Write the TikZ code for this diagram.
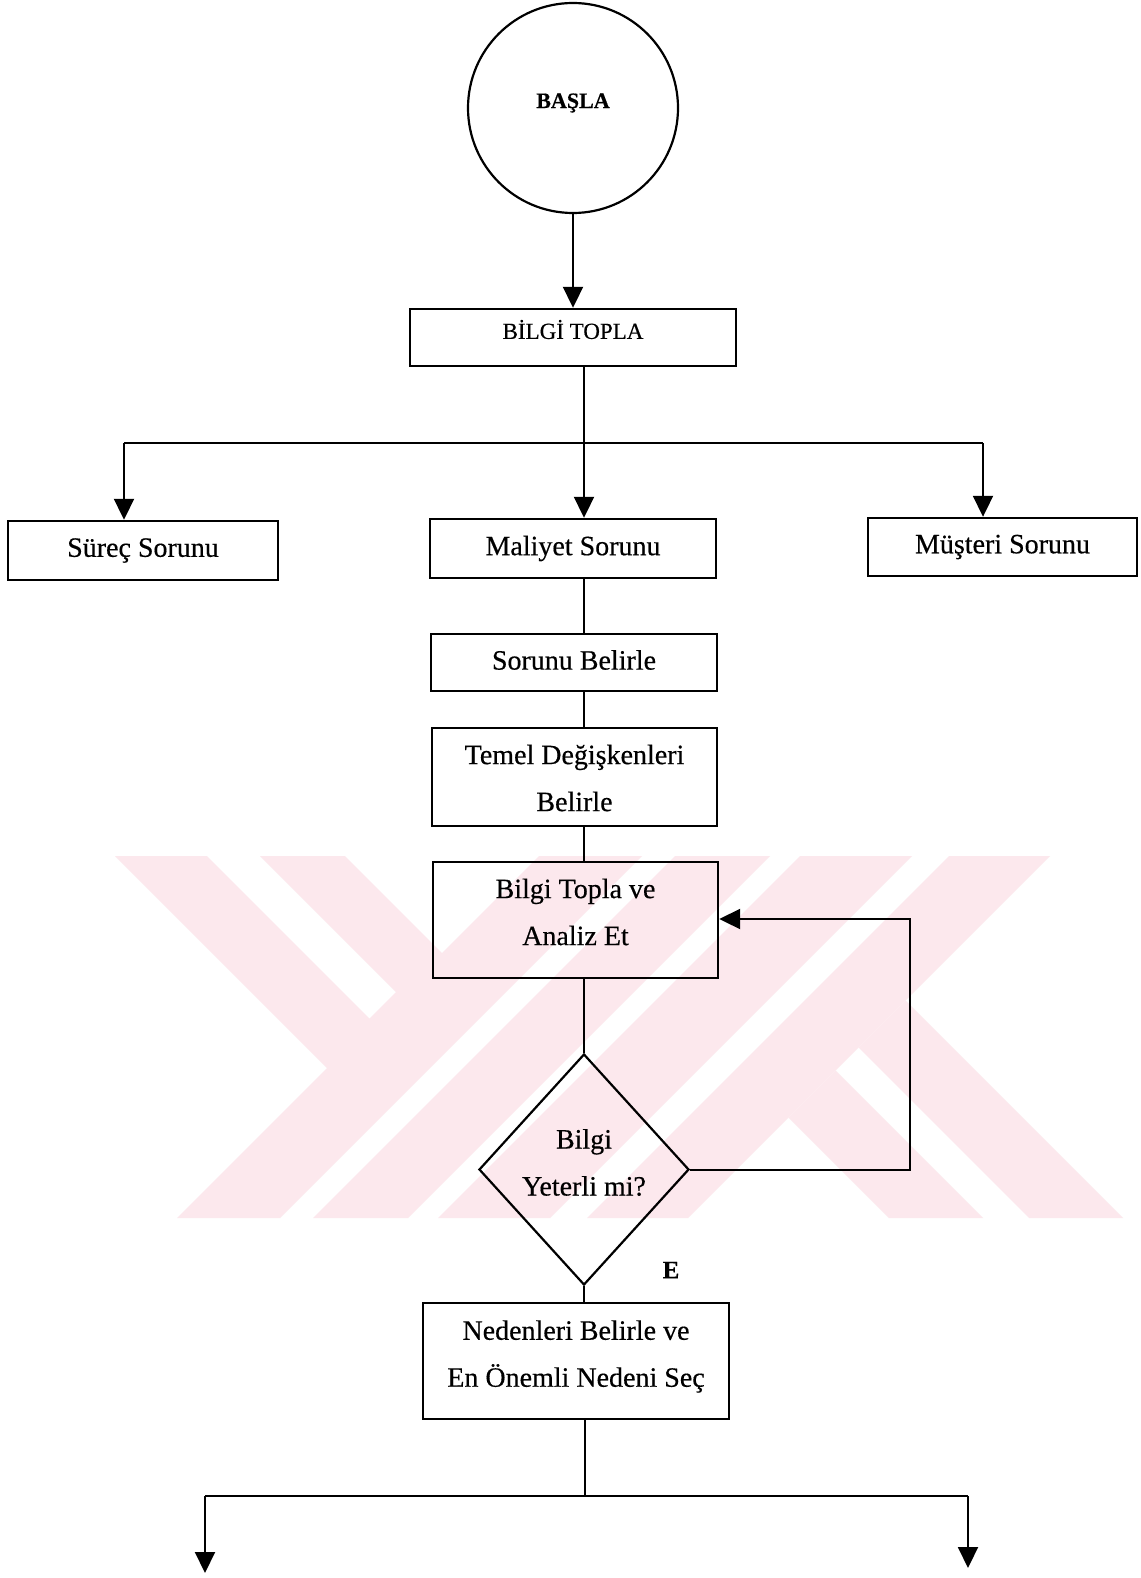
\documentclass[tikz,border=0pt]{standalone}
\usepackage{fontspec}
\setmainfont{Liberation Serif}[FakeBold=0.4]
\usetikzlibrary{arrows.meta,shapes.geometric}
\definecolor{wmpink}{RGB}{252,232,237}
\begin{document}
\begin{tikzpicture}[x=1pt,y=-1pt,
  line width=2pt,
  box/.style={draw=black, line width=2.4pt, rectangle, inner sep=0pt},
  decision/.style={draw=black, line width=2.2pt, diamond, inner sep=0pt},
  txt/.style={inner sep=0pt, align=center, font=\fontsize{28}{47}\selectfont},
  arr/.style={-{Triangle[length=21pt,width=20pt]}},
  wm/.style={fill=wmpink, draw=none}
]
% page
\fill[white] (0,0) rectangle (1140,1578);
\useasboundingbox (0,0) rectangle (1140,1578);

% faint background emblem
\begin{scope}
  \clip (0,856) rectangle (1140,1218);
  \fill[wm] (115,856) -- (327,1068) -- (177,1218) -- (280,1218) -- (642,856)
            -- (539,856) -- (442,953) -- (345,856) -- (260,856) -- (396,992)
            -- (369.5,1018.5) -- (207,856) -- cycle;
  \fill[wm] (675,856) -- (770,856) -- (408,1218) -- (313,1218) -- cycle;
  \fill[wm] (800,856) -- (912,856) -- (550,1218) -- (438,1218) -- cycle;
  \fill[wm] (949,856) -- (1050,856) -- (688,1218) -- (587,1218) -- cycle;
  \fill[wm] (788.5,1117.5) -- (835.5,1070.5) -- (983,1218) -- (889,1218) -- cycle;
  \fill[wm] (858.5,1047.5) -- (905.5,1000.5) -- (1123,1218) -- (1029,1218) -- cycle;
\end{scope}

% shapes
\node[circle, draw=black, line width=2.2pt, minimum size=210pt, inner sep=0pt] (start) at (573,108) {};
\node[box, minimum width=326pt, minimum height=57pt] (bilgi) at (573,337.5) {};
\node[box, minimum width=270pt, minimum height=59pt] (surec) at (143,550.5) {};
\node[box, minimum width=286pt, minimum height=59pt] (maliyet) at (573,548.5) {};
\node[box, minimum width=269pt, minimum height=58pt] (musteri) at (1002.5,547) {};
\node[box, minimum width=286pt, minimum height=57pt] (sorunu) at (574,662.5) {};
\node[box, minimum width=285pt, minimum height=98pt] (temel) at (574.5,777) {};
\node[box, minimum width=285pt, minimum height=116pt] (analiz) at (575.5,920) {};
\node[decision, minimum width=210pt, minimum height=231pt] (karar) at (584,1169.5) {};
\node[box, minimum width=306pt, minimum height=116pt] (neden) at (576,1361) {};

% texts
\node[txt, font=\bfseries\fontsize{22}{26}\selectfont] (startt) at (573,103) {BAŞLA};
\node[txt, font=\fontsize{23}{28}\selectfont] (bilgit) at (573,329.5) {BİLGİ TOPLA};
\node[txt] (surect) at (143,550.5) {Süreç Sorunu};
\node[txt] (maliyett) at (573,548.5) {Maliyet Sorunu};
\node[txt] (musterit) at (1002.5,547) {Müşteri Sorunu};
\node[txt] (sorunut) at (574,660) {Sorunu Belirle};
\node[txt] (temelt) at (574.5,778) {Temel Değişkenleri\\Belirle};
\node[txt] (analizt) at (575.5,912) {Bilgi Topla ve\\Analiz Et};
\node[txt] (karart) at (584,1162.5) {Bilgi\\Yeterli mi?};
\node[txt, font=\bfseries\fontsize{25}{28}\selectfont] (evet) at (671,1270) {E};
\node[txt] (nedent) at (576,1356.5) {Nedenleri Belirle ve\\En Önemli Nedeni Seç};

% junctions and free ends
\coordinate (jt) at (584,443);
\coordinate (jl) at (124,443);
\coordinate (jr) at (983,443);
\coordinate (lp) at (910,919);
\coordinate (jb) at (585,1496);
\coordinate (jbl) at (205,1496);
\coordinate (jbr) at (968,1496);
\coordinate (el) at (205,1573);
\coordinate (er) at (968,1568);

% connectors
\draw[arr] (start.south) -- (bilgi.north);
\draw (bilgi.south -| jt) -- (jt);
\draw (jl) -- (jr);
\draw[arr] (jl) -- (surec.north -| jl);
\draw[arr] (jt) -- (maliyet.north -| jt);
\draw[arr] (jr) -- (musteri.north -| jr);
\draw (maliyet.south -| jt) -- (sorunu.north -| jt);
\draw (sorunu.south -| jt) -- (temel.north -| jt);
\draw (temel.south -| jt) -- (analiz.north -| jt);
\draw (analiz.south -| karar.north) -- (karar.north);
\draw[arr] (karar.east) -| (lp) -- (analiz.east |- lp);
\draw (karar.south) -- (neden.north -| karar.south);
\draw (neden.south -| jb) -- (jb);
\draw (jbl) -- (jbr);
\draw[arr] (jbl) -- (el);
\draw[arr] (jbr) -- (er);
\end{tikzpicture}
\end{document}
